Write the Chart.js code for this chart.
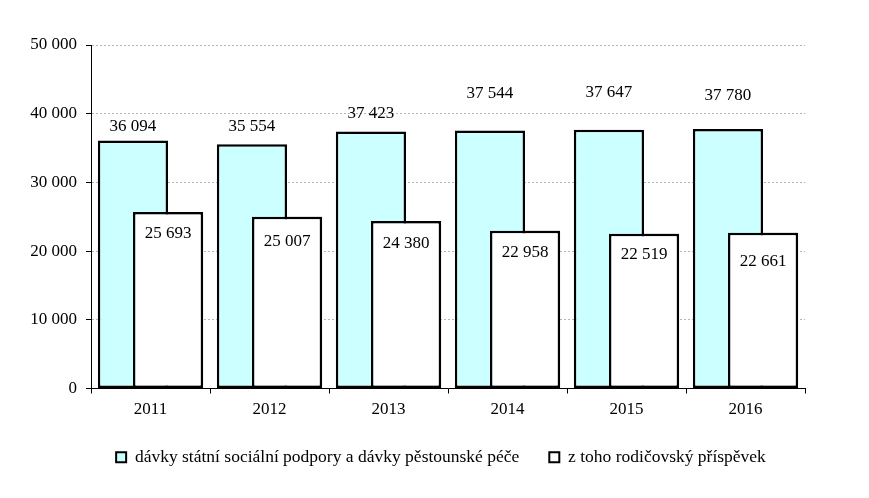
<!doctype html>
<html lang="cs">

<head>
  <meta charset="utf-8">
  <title>Dávky státní sociální podpory</title>
  <style>
    * {
      margin: 0;
      padding: 0;
    }

    body {
      background: white;
    }
  </style>
</head>

<body>
  <canvas id="myChart" width="869" height="498"></canvas>
  <script src="https://cdn.jsdelivr.net/npm/chart.js"></script>
  <script>
    // data
    const years = ['2011', '2012', '2013', '2014', '2015', '2016'];
    const allBenefits = [36094, 35554, 37423, 37544, 37647, 37780];
    const parentalAllowance = [25693, 25007, 24380, 22958, 22519, 22661];
    const yTicks = [0, 10000, 20000, 30000, 40000, 50000];

    const seriesNames = [
      'dávky státní sociální podpory a dávky pěstounské péče',
      'z toho rodičovský příspěvek'
    ];

    // how far the value labels sit from the top of each bar (px)
    const liftAbove = [14, 18, 18, 37, 37, 33];
    const dropBelow = [22, 25, 23, 22, 21, 29];

    const serif = '"Liberation Serif", "Times New Roman", serif';

    function fmt(n) {
      return String(n).replace(/\B(?=(\d{3})+(?!\d))/g, ' ');
    }

    // white bars go over the cyan ones, then the numbers
    const barLabels = {
      id: 'barLabels',
      afterDatasetsDraw(chart) {
        const ctx = chart.ctx;
        chart.getDatasetMeta(1).controller.draw();
        ctx.save();
        ctx.font = '17px ' + serif;
        ctx.fillStyle = '#000';
        ctx.textAlign = 'center';
        ctx.textBaseline = 'middle';
        chart.getDatasetMeta(0).data.forEach((bar, i) => {
          ctx.fillText(fmt(allBenefits[i]), bar.x, bar.y - liftAbove[i]);
        });
        chart.getDatasetMeta(1).data.forEach((bar, i) => {
          ctx.fillText(fmt(parentalAllowance[i]), bar.x, bar.y + dropBelow[i]);
        });
        ctx.restore();
      }
    };

    const data = {
      labels: years,
      datasets: [{
          label: seriesNames[0],
          data: allBenefits,
          backgroundColor: '#ccffff',
          borderColor: '#000',
          borderWidth: 2.5,
          borderSkipped: false
        },
        {
          label: seriesNames[1],
          data: parentalAllowance,
          backgroundColor: '#ffffff',
          borderColor: '#000',
          borderWidth: 2.5,
          borderSkipped: false
        }
      ]
    };

    const config = {
      type: 'bar',
      data,
      options: {
        responsive: false,
        animation: false,
        categoryPercentage: 0.59,
        barPercentage: 2,
        layout: {
          padding: { top: 45, right: 0, bottom: 22, left: 13 }
        },
        scales: {
          x: {
            grid: {
              drawOnChartArea: false,
              drawTicks: true,
              tickLength: 5,
              tickColor: '#000',
              offset: true
            },
            border: { color: '#000', width: 1 },
            ticks: {
              color: '#000',
              padding: 6,
              font: { family: serif, size: 17 }
            },
            afterFit(scale) {
              scale.height = 30;
            }
          },
          y: {
            min: yTicks[0],
            max: yTicks[yTicks.length - 1],
            grid: {
              color: '#b4b4b4',
              tickColor: '#000',
              tickLength: 5
            },
            border: { color: '#000', width: 1, dash: [2, 2] },
            ticks: {
              stepSize: yTicks[1] - yTicks[0],
              color: '#000',
              padding: 9,
              font: { family: serif, size: 17 },
              callback: v => fmt(v)
            },
            afterFit(scale) {
              scale.width = 78;
            }
          },
          // empty strip on the right, keeps the legend centred on the page
          spacer: {
            type: 'linear',
            position: 'right',
            grid: { display: false },
            border: { display: false },
            ticks: { display: false },
            afterFit(scale) {
              scale.width = 64;
            }
          }
        },
        plugins: {
          legend: {
            position: 'bottom',
            labels: {
              color: '#000',
              boxWidth: 10,
              boxHeight: 10,
              padding: 30,
              font: { family: serif, size: 17.5 },
              generateLabels(chart) {
                const items = Chart.defaults.plugins.legend.labels.generateLabels(chart);
                items.forEach(it => it.lineWidth = 2);
                return items;
              }
            }
          },
          tooltip: { enabled: false }
        }
      },
      plugins: [barLabels]
    };

    const myChart = new Chart(document.getElementById('myChart'), config);
  </script>
</body>

</html>
